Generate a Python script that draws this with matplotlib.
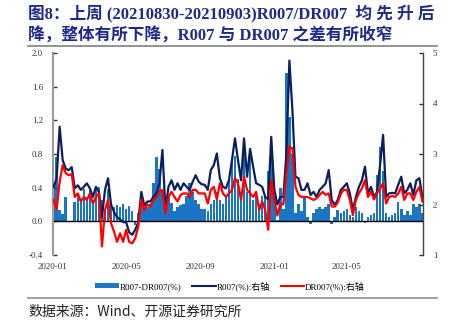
import matplotlib
matplotlib.use('Agg')
import matplotlib.pyplot as plt
import numpy as np
import pandas as pd
from matplotlib.lines import Line2D
from matplotlib.patches import Patch

# ---------------- data ----------------
dates = pd.date_range('2020-01-02', '2021-09-03', freq='5D')

r007 = [2.35, 2.52, 3.54, 2.88, 2.71, 2.68, 2.74, 2.32, 2.38, 2.29,
        2.35, 2.42, 2.32, 2.15, 2.35, 2.25, 1.75, 2.29, 2.52, 2.00,
        1.85, 1.75, 1.70, 1.65, 1.65, 1.45, 1.40, 1.50, 1.65, 2.25,
        1.98, 2.06, 2.06, 2.15, 2.22, 2.42, 3.08, 1.89, 2.35, 2.48,
        2.29, 2.42, 2.29, 2.42, 2.35, 2.29, 2.45, 2.58, 2.45, 2.40,
        2.39, 2.29, 2.68, 2.78, 3.01, 2.52, 2.35, 2.32, 2.48, 2.88,
        3.31, 2.88, 2.48, 3.31, 2.55, 3.10, 2.75, 2.42, 2.39, 2.35,
        2.15, 2.10, 3.34, 2.30, 2.00, 2.15, 2.15, 3.00, 4.85, 3.87,
        2.55, 2.52, 2.29, 2.29, 2.42, 2.19, 2.25, 2.15, 2.29, 2.35,
        2.42, 2.68, 2.09, 1.99, 2.09, 2.29, 2.35, 2.42, 2.22, 1.89,
        2.15, 2.35, 2.48, 2.75, 2.22, 2.35, 2.15, 2.25, 2.78, 3.38,
        2.15, 2.22, 2.23, 2.22, 2.39, 2.55, 2.22, 2.29, 2.42, 2.19,
        2.48, 2.52, 2.15]

dr007 = [2.10, 1.90, 2.45, 2.78, 2.62, 2.58, 2.60, 2.15, 2.22, 2.06,
         2.15, 2.09, 2.22, 2.02, 2.15, 2.22, 1.17, 1.89, 2.09, 1.63,
         1.46, 1.26, 1.43, 1.26, 1.50, 1.26, 1.23, 1.33, 1.56, 2.10,
         1.89, 2.00, 1.96, 2.09, 2.15, 2.25, 2.29, 1.82, 2.15, 2.25,
         2.15, 2.06, 2.19, 2.22, 2.22, 2.15, 2.29, 2.29, 2.22, 2.22,
         2.22, 2.02, 2.29, 2.35, 2.10, 2.42, 2.22, 2.15, 2.22, 2.29,
         2.52, 2.42, 2.09, 2.55, 2.29, 2.22, 2.15, 2.25, 1.89, 2.06,
         1.89, 1.50, 2.48, 2.10, 1.78, 2.02, 2.00, 2.60, 3.15, 3.11,
         2.35, 2.19, 2.15, 2.15, 2.15, 2.12, 2.09, 2.12, 2.19, 2.25,
         2.19, 2.22, 1.96, 1.96, 2.04, 2.21, 2.29, 2.29, 2.09, 1.79,
         2.09, 2.22, 2.32, 2.48, 2.15, 2.25, 2.10, 2.22, 2.32, 2.42,
         2.02, 2.15, 2.17, 2.15, 2.22, 2.35, 2.09, 2.22, 2.22, 2.09,
         2.25, 2.35, 2.06]

spread = [0.45, 0.77, 0.13, 0.09, 0.29, np.nan, np.nan, 0.23, 0.33, 0.25,
          0.39, 0.29, 0.37, 0.21, 0.37, 0.41, 0.25, 0.13, 0.39, 0.21,
          0.17, 0.19, 0.17, 0.21, 0.15, 0.18, 0.12, -0.04, 0.10, 0.28,
          0.15, 0.17, 0.20, 0.45, 0.76, 0.62, 0.35, 0.20, 0.30, 0.22,
          0.12, 0.17, 0.19, 0.20, 0.30, 0.45, 0.35, 0.25, 0.20, 0.15,
          0.15, 0.12, 0.20, 0.25, 0.35, 0.25, 0.20, 0.30, 0.50, 0.70,
          0.78, 0.50, 0.35, 0.88, 0.35, 0.76, 0.25, 0.35, 0.20, 0.30,
          0.30, 0.60, 0.90, 0.30, 0.02, 0.40, 0.15, 1.76, 1.24, 0.80,
          0.10, 0.20, 0.12, 0.30, 0.05, -0.03, 0.10, 0.15, 0.17, 0.15,
          0.17, 0.20, -0.03, 0.05, 0.13, 0.10, 0.12, 0.15, 0.08, 0.05,
          0.17, 0.12, 0.10, -0.02, 0.05, 0.08, 0.10, 0.55, 0.88, 0.60,
          0.10, 0.05, 0.07, 0.10, 0.23, 0.15, 0.07, 0.12, 0.08, 0.20,
          0.17, 0.20, 0.10]

xtick_labels = ['2020-01', '2020-05', '2020-09', '2021-01', '2021-05']
left_ticks = [-0.4, 0.0, 0.4, 0.8, 1.2, 1.6, 2.0]
right_ticks = [1, 2, 3, 4, 5]

legend_labels = ['R007-DR007(%)', 'R007(%):右轴', 'DR007(%):右轴']
title_lines = ['图8：上周 (20210830-20210903)R007/DR007  均 先 升 后',
               '降，整体有所下降，R007 与 DR007 之差有所收窄']
source_text = '数据来源：Wind、开源证券研究所'

# ---------------- style ----------------
SERIF = ['Liberation Serif', 'Noto Sans CJK SC']
CJK = ['Noto Sans CJK SC', 'Liberation Serif']
BAR_C = '#1a75c4'
NAVY = '#0b1f5e'
RED = '#ff0000'
TITLE_C = '#1e2a8a'

W, H = 457, 322
fig = plt.figure(figsize=(W / 100, H / 100), dpi=100)
ax = fig.add_axes([53 / W, 1 - 255 / H, 370 / W, 202 / H])
ax2 = ax.twinx()

ax.bar(dates, spread, width=4.2, color=BAR_C, zorder=1, linewidth=0)
ax.axhline(0, color='black', lw=1.0, zorder=2)
ax2.plot(dates, r007, color=NAVY, lw=1.6, zorder=3)
ax2.plot(dates, dr007, color=RED, lw=1.6, zorder=4)

ax.set_ylim(-0.4, 2.0)
ax2.set_ylim(1, 5)
ax.set_xlim(pd.Timestamp('2020-01-01'), pd.Timestamp('2021-09-04'))

ax.set_yticks(left_ticks)
ax.set_yticklabels([f'{v:.1f}' for v in left_ticks], family=SERIF, fontsize=6.5, color='#333333')
ax2.set_yticks(right_ticks)
ax2.set_yticklabels([str(v) for v in right_ticks], family=SERIF, fontsize=6.5, color='#333333')
ax.set_xticks([pd.Timestamp(s + '-01') for s in xtick_labels])
ax.set_xticklabels(xtick_labels, family=SERIF, fontsize=6.5, color='#333333')

ax.tick_params(axis='x', length=0, pad=6)
ax.tick_params(axis='y', direction='in', length=3, width=1, color='#333333', pad=7)
ax2.tick_params(axis='y', direction='in', length=3, width=1, color='#333333', pad=7)

for s in ['top', 'bottom', 'right']:
    ax.spines[s].set_visible(False)
for s in ['top', 'bottom', 'left']:
    ax2.spines[s].set_visible(False)
ax.spines['left'].set_color('#9a9a9a')
ax.spines['left'].set_linewidth(1.5)
ax2.spines['right'].set_color('#444444')
ax2.spines['right'].set_linewidth(1.0)

handles = [Patch(facecolor=BAR_C, edgecolor='none'),
           Line2D([], [], color=NAVY, lw=1.5),
           Line2D([], [], color=RED, lw=1.5)]
fig.legend(handles, legend_labels, loc='center', bbox_to_anchor=(230 / W, 1 - 286 / H),
           ncol=3, frameon=False, prop={'family': SERIF, 'size': 6.5},
           handlelength=2.6, handleheight=0.5, handletextpad=0.1, columnspacing=1.2)

# title
fig.text(28 / W, 1 - 13 / H, title_lines[0], family=SERIF, fontsize=12, fontweight='bold',
         color=TITLE_C, ha='left', va='center')
fig.text(28 / W, 1 - 35 / H, title_lines[1], family=SERIF, fontsize=12, fontweight='bold',
         color=TITLE_C, ha='left', va='center')
fig.add_artist(Line2D([28 / W, 437 / W], [1 - 46 / H, 1 - 46 / H], color='#808080', lw=1.2))
fig.add_artist(Line2D([28 / W, 437 / W], [1 - 298 / H, 1 - 298 / H], color='#909090', lw=1.2))
fig.text(28 / W, 1 - 312 / H, source_text, family=CJK, fontsize=10, color='#222222',
         ha='left', va='center')

fig.savefig('out.png', dpi=100)
